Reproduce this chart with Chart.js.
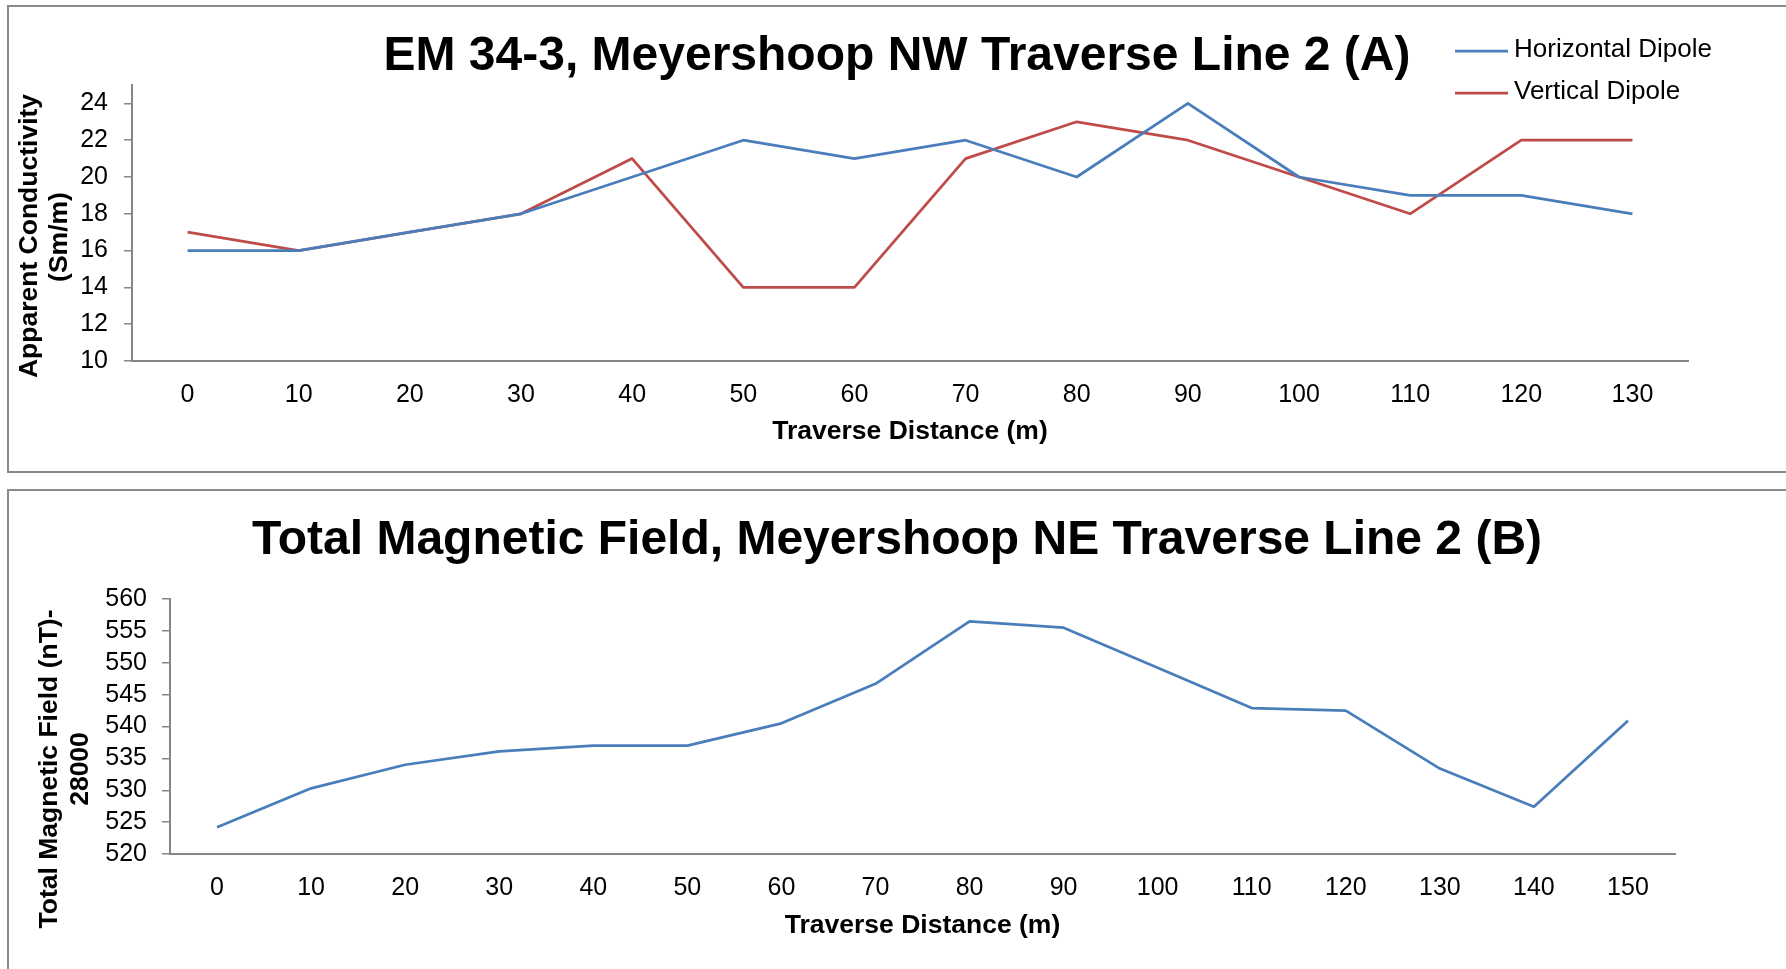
<!DOCTYPE html>
<html>
<head>
<meta charset="utf-8">
<title>EM 34-3 and Total Magnetic Field, Meyershoop Traverse Line 2</title>
<script src="https://cdn.jsdelivr.net/npm/chart.js@4.4.1/dist/chart.umd.min.js"></script>
<style>
  html, body { margin: 0; padding: 0; background: #fff; overflow: hidden; }
  .panel { position: absolute; left: 7px; border: 2px solid #8a8a8a; border-right: none; }
  #panelA { top: 5px; }
  #panelB { top: 489px; border-bottom: none; }
  canvas { display: block; }
</style>
</head>
<body>
<div class="panel" id="panelA"><canvas id="chartA" width="1778" height="464"></canvas></div>
<div class="panel" id="panelB"><canvas id="chartB" width="1778" height="480"></canvas></div>
<script>
// Chart A: EM 34-3 apparent conductivity
const distanceA = ['0', '10', '20', '30', '40', '50', '60', '70', '80', '90', '100', '110', '120', '130'];
const horizontalDipole = [16, 16, 17, 18, 20, 22, 21, 22, 20, 24, 20, 19, 19, 18];
const verticalDipole = [17, 16, 17, 18, 21, 14, 14, 21, 23, 22, 20, 18, 22, 22];
const conductivityTicks = [10, 12, 14, 16, 18, 20, 22, 24];

// Chart B: total magnetic field (minus 28000 nT)
const distanceB = ['0', '10', '20', '30', '40', '50', '60', '70', '80', '90', '100', '110', '120', '130', '140', '150'];
const magneticField = [524.2, 530.3, 534.0, 536.1, 537.0, 537.0, 540.5, 546.7, 556.5, 555.5, 549.2, 542.9, 542.5, 533.4, 527.4, 540.9];
const magneticTicks = [520, 525, 530, 535, 540, 545, 550, 555, 560];

const FONT = "'Liberation Sans', Arial, Helvetica, sans-serif";
const AXIS = '#868686';
const BLUE = '#4a7ebb';
const RED = '#be4b48';

Chart.defaults.font.family = FONT;
Chart.defaults.color = '#000';

// Draws the chart title, the two-line rotated y-axis title and (optionally) the legend
function overlayPlugin(opts) {
    return {
        id: 'overlay',
        afterDraw(chart) {
            const ctx = chart.ctx;
            ctx.save();
            ctx.fillStyle = '#000';

            ctx.font = 'bold 48px ' + FONT;
            ctx.textAlign = 'center';
            ctx.textBaseline = 'alphabetic';
            ctx.fillText(opts.title, opts.titleX, opts.titleY);

            ctx.font = 'bold 26.5px ' + FONT;
            ctx.textBaseline = 'middle';
            opts.yTitle.forEach((line, i) => {
                ctx.save();
                ctx.translate(opts.yTitlePos[i][0], opts.yTitlePos[i][1]);
                ctx.rotate(-Math.PI / 2);
                ctx.fillText(line, 0, 0);
                ctx.restore();
            });

            if (opts.legend) {
                const lg = opts.legend;
                ctx.font = '26px ' + FONT;
                ctx.textAlign = 'left';
                chart.data.datasets.forEach((ds, i) => {
                    const y = lg.y + i * lg.rowGap;
                    ctx.strokeStyle = ds.borderColor;
                    ctx.lineWidth = 2.75;
                    ctx.beginPath();
                    ctx.moveTo(lg.x, y);
                    ctx.lineTo(lg.x + lg.lineLen, y);
                    ctx.stroke();
                    ctx.fillText(ds.label, lg.x + lg.lineLen + 6, y - 1);
                });
            }
            ctx.restore();
        }
    };
}

function lineDataset(label, data, color) {
    return {
        label: label,
        data: data,
        borderColor: color,
        backgroundColor: color,
        borderWidth: 2.75,
        borderJoinStyle: 'round',
        pointRadius: 0,
        tension: 0,
        fill: false
    };
}

function buildScales(cfg) {
    return {
        x: {
            type: 'category',
            offset: true,
            grid: { display: false },
            border: { display: true, color: AXIS, width: 2 },
            ticks: { font: { size: 25 }, padding: cfg.xLabelPad, maxRotation: 0, autoSkip: false },
            title: {
                display: true,
                text: 'Traverse Distance (m)',
                font: { size: 26.5, weight: 'bold' },
                padding: { top: 0, bottom: cfg.xTitlePad }
            },
            afterFit: (scale) => { scale.height = 110; }
        },
        y: {
            min: cfg.yMin,
            max: cfg.yMax,
            grid: { display: true, drawOnChartArea: false, drawTicks: true, tickLength: 8, color: AXIS, lineWidth: 1.5 },
            border: { display: true, color: AXIS, width: 2 },
            ticks: { font: { size: 25 }, padding: cfg.yLabelPad, autoSkip: false },
            afterBuildTicks: (scale) => { scale.ticks = cfg.yTicks.map(v => ({ value: v })); },
            afterFit: (scale) => { scale.width = cfg.yWidth; }
        }
    };
}

new Chart(document.getElementById('chartA'), {
    type: 'line',
    data: {
        labels: distanceA,
        datasets: [
            lineDataset('Horizontal Dipole', horizontalDipole, BLUE),
            lineDataset('Vertical Dipole', verticalDipole, RED)
        ]
    },
    options: {
        responsive: false,
        animation: false,
        layout: { padding: { top: 78, right: 99, bottom: 0, left: 0 } },
        plugins: { legend: { display: false }, title: { display: false }, tooltip: { enabled: false } },
        scales: buildScales({ yMin: 10, yMax: 25, yTicks: conductivityTicks, yWidth: 123, yLabelPad: 16, xLabelPad: 11, xTitlePad: 23 })
    },
    plugins: [overlayPlugin({
        title: 'EM 34-3, Meyershoop NW Traverse Line 2 (A)',
        titleX: 888, titleY: 63,
        yTitle: ['Apparent Conductivity', '(Sm/m)'],
        yTitlePos: [[21, 229], [51, 230]],
        legend: { x: 1446, y: 44, rowGap: 42, lineLen: 53 }
    })]
});

new Chart(document.getElementById('chartB'), {
    type: 'line',
    data: {
        labels: distanceB,
        datasets: [lineDataset('Total Magnetic Field', magneticField, BLUE)]
    },
    options: {
        responsive: false,
        animation: false,
        layout: { padding: { top: 108, right: 112, bottom: 7, left: 0 } },
        plugins: { legend: { display: false }, title: { display: false }, tooltip: { enabled: false } },
        scales: buildScales({ yMin: 520, yMax: 560, yTicks: magneticTicks, yWidth: 161, yLabelPad: 15, xLabelPad: 11, xTitlePad: 22 })
    },
    plugins: [overlayPlugin({
        title: 'Total Magnetic Field, Meyershoop NE Traverse Line 2 (B)',
        titleX: 888, titleY: 63,
        yTitle: ['Total Magnetic Field (nT)-', '28000'],
        yTitlePos: [[41, 278], [72, 278]]
    })]
});
</script>
</body>
</html>
